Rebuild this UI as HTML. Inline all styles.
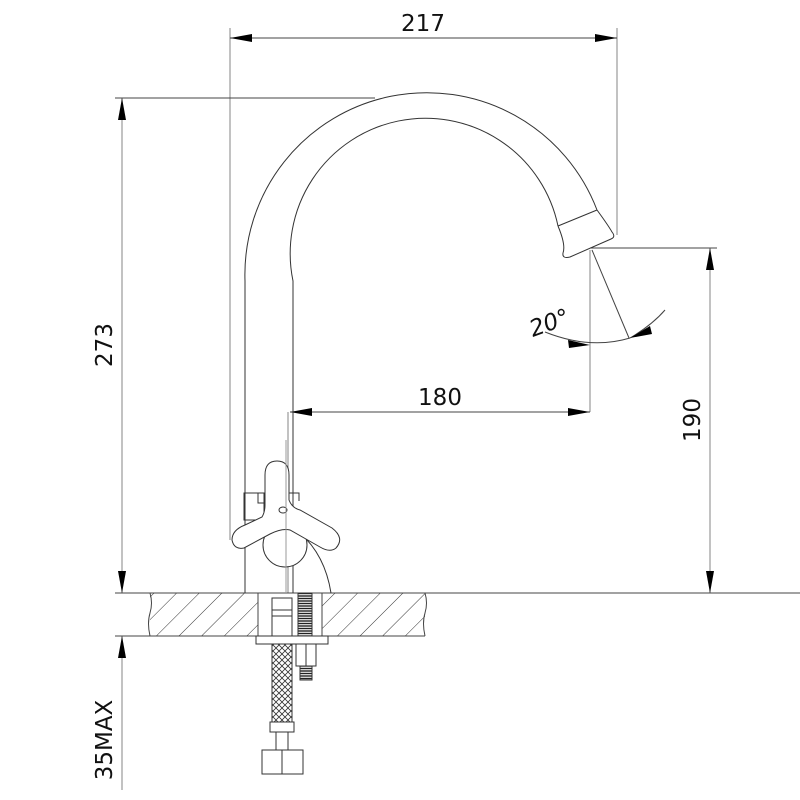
<!DOCTYPE html>
<html><head><style>html,body{margin:0;padding:0;background:#fff}svg{display:block}</style></head>
<body>
<svg width="800" height="800" viewBox="0 0 800 800" xmlns="http://www.w3.org/2000/svg" font-family="'DejaVu Sans','Liberation Sans',sans-serif">
<defs>
<pattern id="h" patternUnits="userSpaceOnUse" width="16" height="16" patternTransform="rotate(45)">
<line x1="0" y1="0" x2="0" y2="16" stroke="#333" stroke-width="1"/>
</pattern>
<pattern id="mesh" patternUnits="userSpaceOnUse" width="6" height="6">
<path d="M0 0L6 6M6 0L0 6" stroke="#333" stroke-width="0.8"/>
</pattern>
<pattern id="thr" patternUnits="userSpaceOnUse" width="4" height="2.5">
<rect width="4" height="2.5" fill="#fff"/><line x1="0" y1="1" x2="4" y2="1" stroke="#222" stroke-width="1.4"/>
</pattern>
</defs>
<g stroke="#999" stroke-width="1.2" fill="none">
<line x1="230" y1="28" x2="230" y2="540"/>
<line x1="617" y1="28" x2="617" y2="235"/>
<line x1="590" y1="250" x2="590" y2="412"/>
<line x1="288" y1="412" x2="288" y2="593"/>
<line x1="122" y1="98" x2="122" y2="593"/>
<line x1="710" y1="248" x2="710" y2="593"/>
<line x1="122" y1="636" x2="122" y2="790"/>
</g>
<g stroke="#444" stroke-width="1" fill="none">
<line x1="230" y1="38" x2="617" y2="38"/>
<line x1="115" y1="98" x2="375" y2="98"/>
<line x1="590" y1="248" x2="717" y2="248"/>
<line x1="290" y1="412" x2="590" y2="412"/>
<line x1="115" y1="593" x2="800" y2="593"/>
<line x1="115" y1="636" x2="425" y2="636"/>
<line x1="592" y1="250" x2="629" y2="338"/>
<path d="M545 332 Q590 350 630 338 Q652 325 665 310"/>
</g>
<g fill="#000">
<path d="M230 38 l22 -4 v8z"/><path d="M617 38 l-22 -4 v8z"/>
<path d="M122 98 l-4 22 h8z"/><path d="M122 593 l-4 -22 h8z"/>
<path d="M122 636 l-4 22 h8z"/>
<path d="M710 248 l-4 22 h8z"/><path d="M710 593 l-4 -22 h8z"/>
<path d="M290 412 l22 -4 v8z"/><path d="M590 412 l-22 -4 v8z"/>
<path d="M590 345 l-22 -5 l1 8z"/>
<path d="M630 338 l20 -12 l2 8z"/>
</g>
<g font-size="23" fill="#111">
<text x="423" y="31" text-anchor="middle">217</text>
<text x="440" y="405" text-anchor="middle">180</text>
<text transform="translate(112,345) rotate(-90)" text-anchor="middle">273</text>
<text transform="translate(700,420) rotate(-90)" text-anchor="middle">190</text>
<text transform="translate(112,740) rotate(-90)" text-anchor="middle">35MAX</text>
<text transform="translate(552,330) rotate(-20)" text-anchor="middle" font-style="italic">20°</text>
</g>
<rect x="150" y="593" width="108" height="43" fill="url(#h)"/>
<rect x="322" y="593" width="103" height="43" fill="url(#h)"/>
<g stroke="#444" stroke-width="1" fill="none">
<path d="M150 593 q3 10 0 20 q-3 10 0 23"/>
<path d="M425 593 q3 10 0 20 q-3 10 0 23"/>
<line x1="258" y1="593" x2="258" y2="636"/>
<line x1="322" y1="593" x2="322" y2="636"/>
</g>
<g stroke="#333" stroke-width="1" fill="none">
<path d="M245 593 V281 A182 182 0 0 1 597 210"/>
<path d="M293 593 V281 A134 134 0 0 1 558 226"/>
<path d="M597 210 L558 226"/>
<path d="M597 210 Q608 225 612 232 Q616 237 611 239 L570 257 Q562 259 563 253 Q566 245 558 226"/>
<path d="M244 493 h20 v27 h-20z"/>
<path d="M258 493 v10 h6"/>
<path d="M289 493 h10 v8"/>
<circle cx="285" cy="545" r="22" fill="#fff"/>
<path d="M300 533 Q325 555 331 593"/>
<path d="M265 475 Q265 461 277 461 Q289 461 289 475 V500 Q292 508 300 510 L332 528 Q345 538 336 548 Q330 553 320 547 L290 530 Q282 528 270 534 L244 548 Q234 550 232 540 Q232 530 245 525 L262 517 Q265 512 265 505z" fill="#fff"/>
<ellipse cx="283" cy="510" rx="4" ry="3"/>
<line x1="286" y1="440" x2="286" y2="593" stroke="#999"/>
</g>
<g stroke="#333" stroke-width="1" fill="#fff">
<rect x="272" y="598" width="20" height="38"/>
<line x1="272" y1="610" x2="292" y2="610"/>
<line x1="272" y1="616" x2="292" y2="616"/>
<rect x="298" y="593" width="14" height="43" fill="url(#thr)"/>
<rect x="256" y="636" width="72" height="8"/>
<rect x="272" y="644" width="20" height="78" fill="url(#mesh)"/>
<rect x="270" y="722" width="24" height="10"/>
<line x1="276" y1="732" x2="276" y2="750"/><line x1="288" y1="732" x2="288" y2="750"/>
<rect x="262" y="750" width="41" height="24"/>
<line x1="282" y1="750" x2="282" y2="774"/>
<rect x="296" y="644" width="20" height="22"/>
<line x1="306" y1="644" x2="306" y2="666"/>
<rect x="300" y="666" width="12" height="14" fill="url(#thr)"/>
</g>
</svg>
</body></html>
